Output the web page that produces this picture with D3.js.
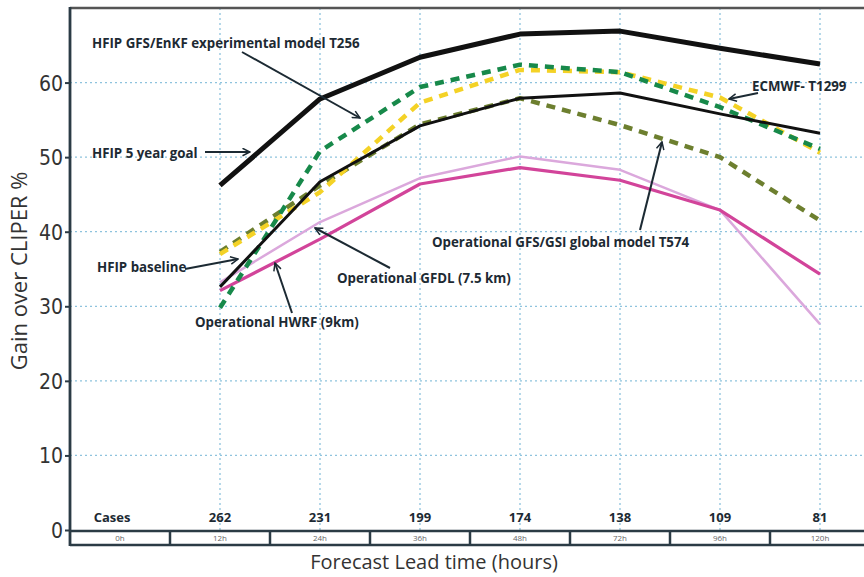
<!DOCTYPE html>
<html><head><meta charset="utf-8">
<script src="https://cdn.jsdelivr.net/npm/d3@7/dist/d3.min.js"></script>
<style>
html,body{margin:0;padding:0;background:#fff;}
svg{display:block;}
</style></head>
<body>
<svg id="chart" width="864" height="577"></svg>
<script>
// ---------- data ----------
const leadTimes = ["0h","12h","24h","36h","48h","72h","96h","120h"];
const seriesHours = ["12h","24h","36h","48h","72h","96h","120h"];
const cases = [262, 231, 199, 174, 138, 109, 81];
const yTicks = [0,10,20,30,40,50,60];

const goal5yr      = [46.2, 57.8, 63.4, 66.5, 66.9, 64.6, 62.5];
const hfipBaseline = [32.6, 46.7, 54.2, 57.9, 58.6, 55.8, 53.2];
const ecmwf        = [37.0, 45.3, 57.3, 61.7, 61.4, 58.0, 50.6];
const gfsEnkf      = [29.8, 50.8, 59.4, 62.4, 61.4, 56.7, 51.1];
const gfsGsi       = [37.3, 46.2, 54.4, 57.9, 54.3, 50.0, 41.5];
const gfdl         = [33.2, 41.3, 47.2, 50.1, 48.3, 42.9, 27.6];
const hwrf         = [32.1, 39.0, 46.4, 48.6, 46.9, 42.9, 34.3];

const labels = {
  enkf: "HFIP GFS/EnKF experimental model T256",
  goal: "HFIP 5 year goal",
  ecmwf: "ECMWF- T1299",
  gsi: "Operational GFS/GSI global model  T574",
  gfdl: "Operational GFDL (7.5 km)",
  base: "HFIP baseline",
  hwrf: "Operational HWRF (9km)"
};

(function(){
// ---------- layout ----------
const svg = d3.select("#chart");
const pLeft = 70, pRight = 870, pTop = 8, pBottom = 530;
const x = d3.scaleBand().domain(leadTimes).range([pLeft, pRight]).padding(0);
const cx = d => x(d) + x.bandwidth()/2;
const y = d3.scaleLinear().domain([0,70]).range([pBottom, pTop]);

const axisColor = "#2b3b45";
const gridColor = "#8ec3dd";

// grid horizontal
svg.append("g").selectAll("line").data(yTicks.filter(t => t > 0)).join("line")
  .attr("x1", pLeft).attr("x2", 864).attr("y1", d => y(d)).attr("y2", d => y(d))
  .attr("stroke", gridColor).attr("stroke-width", 1.3).attr("stroke-dasharray", "2,3");
// grid vertical
svg.append("g").selectAll("line").data(seriesHours).join("line")
  .attr("x1", d => cx(d)).attr("x2", d => cx(d)).attr("y1", pTop).attr("y2", pBottom)
  .attr("stroke", gridColor).attr("stroke-width", 1.3).attr("stroke-dasharray", "2,3");

// top border
svg.append("line").attr("x1", pLeft).attr("x2", 864).attr("y1", pTop).attr("y2", pTop)
  .attr("stroke", "#555").attr("stroke-width", 2.5);

// y axis
const yAxis = d3.axisLeft(y).tickValues(yTicks).tickSize(5).tickFormat(d3.format("d"));
const ya = svg.append("g").attr("transform", `translate(${pLeft},0)`).call(yAxis);
ya.select(".domain").remove();
ya.selectAll(".tick line").attr("stroke", axisColor).attr("stroke-width", 2);
ya.selectAll(".tick text").attr("x", -7).attr("dy", "0.36em")
  .attr("font-family", "'Liberation Sans Narrow','DejaVu Sans Condensed','Open Sans',sans-serif")
  .attr("font-size", 21).attr("fill", "#333");
svg.append("line").attr("x1", pLeft).attr("x2", pLeft).attr("y1", pTop - 1).attr("y2", 546)
  .attr("stroke", axisColor).attr("stroke-width", 2.8);

// bottom table
const tbl = svg.append("g");
tbl.append("line").attr("x1", pLeft).attr("x2", 864).attr("y1", 531).attr("y2", 531)
  .attr("stroke", axisColor).attr("stroke-width", 2.5);
tbl.append("line").attr("x1", pLeft).attr("x2", 864).attr("y1", 545).attr("y2", 545)
  .attr("stroke", axisColor).attr("stroke-width", 2.5);
tbl.selectAll("line.sep").data(leadTimes.slice(1)).join("line").attr("class","sep")
  .attr("x1", d => x(d)).attr("x2", d => x(d)).attr("y1", 531).attr("y2", 546)
  .attr("stroke", axisColor).attr("stroke-width", 2.5);
tbl.selectAll("text.hr").data(leadTimes).join("text").attr("class","hr")
  .attr("x", d => cx(d)).attr("y", 541).attr("text-anchor","middle")
  .attr("font-family","'Open Sans',sans-serif").attr("font-size", 8).attr("fill","#666")
  .text(d => d);

// cases row
svg.append("text").attr("x", cx("0h") - 8).attr("y", 522).attr("text-anchor","middle")
  .attr("font-family","'Open Sans',sans-serif").attr("font-weight","bold").attr("font-size",13)
  .attr("fill","#1d2a33").text("Cases");
svg.selectAll("text.case").data(cases).join("text").attr("class","case")
  .attr("x", (d,i) => cx(seriesHours[i])).attr("y", 522).attr("text-anchor","middle")
  .attr("font-family","'Open Sans',sans-serif").attr("font-weight","bold").attr("font-size",13)
  .attr("fill","#1d2a33").text(d => d);

// axis titles
svg.append("text").attr("x", 434).attr("y", 569).attr("text-anchor","middle")
  .attr("font-family","'Open Sans',sans-serif").attr("font-size",20).attr("fill","#333")
  .text("Forecast Lead time (hours)");
svg.append("text").attr("transform","translate(27,271) rotate(-90)").attr("text-anchor","middle")
  .attr("font-family","'Open Sans',sans-serif").attr("font-size",22).attr("fill","#333")
  .text("Gain over CLIPER %");

// ---------- series ----------
const line = d3.line().x((d,i) => cx(seriesHours[i])).y(d => y(d));
const series = [
  {v: gfdl, color: "#dba8dc", w: 2.5, dash: null},
  {v: hwrf, color: "#d2449a", w: 3.2, dash: null},
  {v: gfsGsi, color: "#6d7f2f", w: 4.5, dash: "9,7"},
  {v: ecmwf, color: "#f4d226", w: 4.5, dash: "9,7"},
  {v: gfsEnkf, color: "#17894a", w: 4.5, dash: "9,7"},
  {v: hfipBaseline, color: "#111", w: 3, dash: null},
  {v: goal5yr, color: "#111", w: 5, dash: null}
];
svg.append("g").selectAll("path").data(series).join("path")
  .attr("d", d => line(d.v)).attr("fill","none")
  .attr("stroke", d => d.color).attr("stroke-width", d => d.w)
  .attr("stroke-dasharray", d => d.dash).attr("stroke-linejoin","round");

// ---------- annotations ----------
const defs = svg.append("defs");
defs.append("marker").attr("id","arr").attr("viewBox","0 0 12 12").attr("refX",11).attr("refY",6)
  .attr("markerWidth",9).attr("markerHeight",9).attr("markerUnits","userSpaceOnUse").attr("orient","auto")
  .append("path").attr("d","M1,1 L11,6 L1,11").attr("fill","none").attr("stroke","#1c2a33").attr("stroke-width",2);

const ann = svg.append("g").attr("font-family","'Open Sans',sans-serif").attr("font-weight","bold")
  .attr("font-size",13.3).attr("fill","#1d2a33");
const addText = (t, xx, yy) => ann.append("text").attr("x", xx).attr("y", yy).text(t);
const addArrow = (x1,y1,x2,y2) => svg.append("line").attr("x1",x1).attr("y1",y1).attr("x2",x2).attr("y2",y2)
  .attr("stroke","#1c2a33").attr("stroke-width",2).attr("marker-end","url(#arr)");

addText(labels.enkf, 92, 48);
addArrow(242, 52, 360, 118);
addText(labels.goal, 92, 158);
addArrow(205, 152, 250, 152);
addText(labels.ecmwf, 752, 91);
addArrow(758, 93, 729, 99);
addText(labels.gsi, 432, 247);
addArrow(640, 230, 662, 142);
addText(labels.gfdl, 337, 283);
addArrow(390, 268, 315, 228);
addText(labels.base, 97, 272);
addArrow(185, 269, 238, 259);
addText(labels.hwrf, 195, 327);
addArrow(292, 313, 275, 263);
})();
</script>
</body></html>
